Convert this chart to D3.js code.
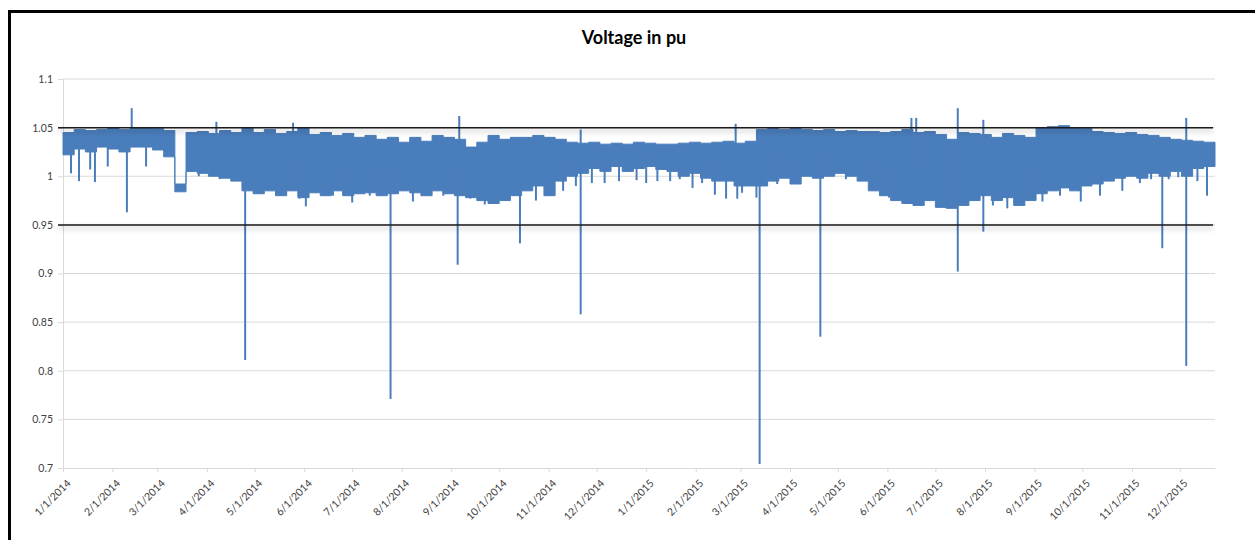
<!DOCTYPE html>
<html>
<head>
<meta charset="utf-8">
<script src="https://cdn.jsdelivr.net/npm/d3@7"></script>
<style>
  body { margin: 0; background: #fff; }
  .axis text { font-family: Lato, "Open Sans", sans-serif; font-size: 10.5px; fill: #404040; }
  .title { font-family: Lato, "Open Sans", sans-serif; font-size: 18px; font-weight: bold; fill: #000; }
</style>
</head>
<body>
<div id="chart"></div>
<script>
var width = 1255,
  height = 540;

// weekly samples starting 1/1/2014, upper and lower edge of the band (pu)
var weekStart = "2014-01-01";
var bandHigh = [
  1.045, 1.048, 1.047, 1.048, 1.050, 1.048, 1.050, 1.050, 1.049, 1.047,
  0.992, 1.045, 1.046, 1.044, 1.047, 1.045, 1.050, 1.045, 1.048, 1.044,
  1.046, 1.050, 1.043, 1.045, 1.042, 1.044, 1.040, 1.042, 1.038, 1.040,
  1.035, 1.040, 1.036, 1.042, 1.040, 1.038, 1.030, 1.035, 1.042, 1.038,
  1.040, 1.040, 1.042, 1.040, 1.038, 1.035, 1.034, 1.035, 1.033, 1.034,
  1.033, 1.035, 1.034, 1.033, 1.033, 1.034, 1.035, 1.034, 1.035, 1.036,
  1.034, 1.036, 1.048, 1.049, 1.048, 1.049, 1.048, 1.047, 1.048, 1.046,
  1.047, 1.046, 1.046, 1.045, 1.046, 1.048, 1.045, 1.046, 1.043, 1.038,
  1.045, 1.044, 1.043, 1.040, 1.044, 1.042, 1.040, 1.050, 1.051, 1.052,
  1.050, 1.049, 1.046, 1.045, 1.044, 1.045, 1.043, 1.042, 1.040, 1.038,
  1.037, 1.036, 1.035, 1.035
];
var bandLow = [
  1.022, 1.028, 1.025, 1.030, 1.028, 1.025, 1.030, 1.030, 1.027, 1.020,
  0.984, 1.005, 1.003, 1.000, 0.998, 0.995, 0.985, 0.982, 0.985, 0.980,
  0.985, 0.978, 0.983, 0.980, 0.985, 0.980, 0.982, 0.983, 0.980, 0.982,
  0.985, 0.983, 0.980, 0.985, 0.982, 0.980, 0.978, 0.975, 0.972, 0.975,
  0.980, 0.985, 0.990, 0.980, 0.995, 1.000, 1.003, 1.008, 1.005, 1.010,
  1.005, 1.008, 1.010, 1.007, 1.005, 1.000, 1.003, 0.998, 0.995, 0.995,
  0.990, 0.990, 0.990, 0.995, 0.998, 0.992, 1.000, 0.998, 1.000, 1.003,
  1.000, 0.995, 0.985, 0.980, 0.975, 0.972, 0.970, 0.975, 0.968, 0.967,
  0.970, 0.975, 0.980, 0.975, 0.978, 0.970, 0.975, 0.982, 0.985, 0.988,
  0.985, 0.990, 0.992, 0.995, 0.998, 1.000, 0.998, 1.003, 1.000, 1.005,
  1.000, 1.008, 1.010, 1.015
];

// single readings that stick out of the band
var spikeDates = [
  "2014-01-06", "2014-01-11", "2014-01-18", "2014-01-21", "2014-01-29",
  "2014-02-10", "2014-02-13", "2014-02-22", "2014-03-27", "2014-04-07",
  "2014-04-09", "2014-04-25", "2014-05-12", "2014-05-25", "2014-05-29",
  "2014-06-02", "2014-06-19", "2014-07-01", "2014-07-12", "2014-07-25",
  "2014-08-08", "2014-08-27", "2014-09-05", "2014-09-06", "2014-09-13",
  "2014-09-22", "2014-10-06", "2014-10-14", "2014-10-24", "2014-10-31",
  "2014-11-10", "2014-11-18", "2014-11-21", "2014-11-21", "2014-11-28",
  "2014-12-06", "2014-12-15", "2014-12-26", "2015-01-01", "2015-01-08",
  "2015-01-16", "2015-01-22", "2015-01-30", "2015-02-05", "2015-02-13",
  "2015-02-20", "2015-02-26", "2015-02-27", "2015-03-02", "2015-03-11",
  "2015-03-13", "2015-03-19", "2015-03-24", "2015-04-07", "2015-04-20",
  "2015-05-06", "2015-05-21", "2015-06-02", "2015-06-16", "2015-06-17",
  "2015-06-19", "2015-07-04", "2015-07-08", "2015-07-15", "2015-07-15",
  "2015-07-24", "2015-07-31", "2015-07-31", "2015-08-06", "2015-08-15",
  "2015-08-27", "2015-09-06", "2015-09-17", "2015-09-30", "2015-10-12",
  "2015-10-26", "2015-11-06", "2015-11-13", "2015-11-20", "2015-11-24",
  "2015-11-30", "2015-12-05", "2015-12-05", "2015-12-12", "2015-12-18"
];
var spikeValues = [
  1.003, 0.995, 1.007, 0.994, 1.010,
  0.963, 1.070, 1.010, 1.000, 1.056,
  0.997, 0.811, 0.987, 1.055, 0.977,
  0.969, 0.980, 0.973, 0.980, 0.771,
  0.974, 0.980, 0.909, 1.062, 0.977,
  0.971, 0.977, 0.931, 0.975, 0.983,
  0.985, 0.990, 0.858, 1.048, 0.993,
  0.993, 0.995, 0.996, 0.993, 0.995,
  0.995, 0.997, 0.988, 0.993, 0.981,
  0.977, 1.054, 0.977, 0.983, 0.978,
  0.704, 1.000, 0.992, 0.993, 0.835,
  0.997, 0.987, 0.978, 1.060, 0.977,
  1.060, 0.970, 0.967, 1.070, 0.902,
  0.977, 1.058, 0.943, 0.970, 0.967,
  0.977, 0.974, 0.980, 0.974, 0.980,
  0.985, 0.993, 0.997, 0.926, 0.997,
  0.999, 1.060, 0.805, 0.995, 0.980
];

var limitValues = [1.05, 0.95];
var yTicks = [0.7, 0.75, 0.8, 0.85, 0.9, 0.95, 1, 1.05, 1.1];
var endDate = "2015-12-23";
var blue = "#4a7dbb";

var parse = d3.timeParse("%Y-%m-%d");
var start = parse(weekStart);

var band = bandHigh.map(function(h, i) {
  return { date: d3.timeDay.offset(start, i * 7), hi: h, lo: bandLow[i] };
});

var spikes = spikeDates.map(function(d, i) {
  return { date: parse(d), v: spikeValues[i] };
});

var svg = d3.select('#chart').append('svg')
  .attr('width', width)
  .attr('height', height);

var x = d3.scaleTime()
  .domain([start, parse(endDate)])
  .range([63, 1215]);

var y = d3.scaleLinear()
  .domain([0.7, 1.1])
  .range([468, 79]);

// shadow under the limit lines
var defs = svg.append('defs');
var f = defs.append('filter').attr('id', 'shadow')
  .attr('filterUnits', 'userSpaceOnUse')
  .attr('x', 0).attr('y', 0).attr('width', width).attr('height', height);
f.append('feDropShadow')
  .attr('dx', 0).attr('dy', 3)
  .attr('stdDeviation', 2.5)
  .attr('flood-color', '#000')
  .attr('flood-opacity', 0.3);

// outer frame
svg.append('path')
  .attr('d', 'M9.5,540 V11.5 H1255')
  .attr('fill', 'none')
  .attr('stroke', '#000')
  .attr('stroke-width', 3);

svg.append('text')
  .attr('class', 'title')
  .attr('x', 634)
  .attr('y', 44)
  .attr('text-anchor', 'middle')
  .text('Voltage in pu');

// gridlines
svg.append('g')
  .selectAll('line')
  .data(yTicks.slice(1))
  .enter().append('line')
  .attr('x1', 63).attr('x2', 1215)
  .attr('y1', function(d) { return y(d); })
  .attr('y2', function(d) { return y(d); })
  .attr('stroke', '#d9d9d9')
  .attr('stroke-width', 1);

// y axis
var yAxis = svg.append('g')
  .attr('class', 'axis')
  .attr('transform', 'translate(63,0)')
  .call(d3.axisLeft(y).tickValues(yTicks).tickSize(5).tickPadding(5)
    .tickFormat(function(d) { return String(+d.toFixed(2)); }));
yAxis.select('.domain').attr('stroke', '#d9d9d9');
yAxis.selectAll('.tick line').attr('stroke', '#d9d9d9');

// x axis
var months = d3.timeMonth.range(start, parse(endDate));
var xAxis = svg.append('g')
  .attr('class', 'axis')
  .attr('transform', 'translate(0,468)')
  .call(d3.axisBottom(x).tickValues(months).tickSize(4).tickSizeOuter(0)
    .tickFormat(d3.timeFormat('%-m/%-d/%Y')));
xAxis.select('.domain').attr('stroke', '#d9d9d9');
xAxis.selectAll('.tick line').attr('stroke', '#d9d9d9');
xAxis.selectAll('.tick text')
  .attr('text-anchor', 'end')
  .attr('dx', 0).attr('dy', 0)
  .attr('transform', 'translate(3,11) rotate(-45)');

// voltage band
var area = d3.area()
  .curve(d3.curveStepAfter)
  .x(function(d) { return x(d.date); })
  .y0(function(d) { return y(d.lo); })
  .y1(function(d) { return y(d.hi); });

svg.append('path')
  .datum(band)
  .attr('d', area)
  .attr('fill', blue)
  .attr('stroke', blue)
  .attr('stroke-width', 1);

// spikes, drawn from the middle of the band
var bis = d3.bisector(function(d) { return d.date; }).right;
svg.append('g')
  .selectAll('line')
  .data(spikes)
  .enter().append('line')
  .attr('x1', function(d) { return x(d.date); })
  .attr('x2', function(d) { return x(d.date); })
  .attr('y1', function(d) {
    var b = band[Math.max(0, bis(band, d.date) - 1)];
    return y((b.hi + b.lo) / 2);
  })
  .attr('y2', function(d) { return y(d.v); })
  .attr('stroke', blue)
  .attr('stroke-width', 2);

// limit lines
svg.append('g')
  .selectAll('line')
  .data(limitValues)
  .enter().append('line')
  .attr('x1', 58).attr('x2', 1213)
  .attr('y1', function(d) { return y(d); })
  .attr('y2', function(d) { return y(d); })
  .attr('stroke', '#1a1a1a')
  .attr('stroke-width', 1.5)
  .attr('filter', 'url(#shadow)');
</script>
</body>
</html>
